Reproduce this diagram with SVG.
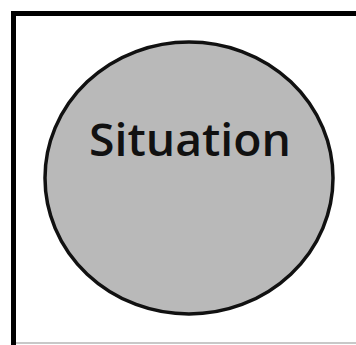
<svg xmlns="http://www.w3.org/2000/svg" width="356" height="345" viewBox="0 0 356 345">
<style>
.frame{fill:none;stroke:#000;stroke-width:5}
.node{fill:#b9b9b9;stroke:#111;stroke-width:3.5}
.label{font-family:"Open Sans","DejaVu Sans",sans-serif;font-size:45px;font-weight:600;fill:#111}
</style>
<rect x="0" y="0" width="356" height="345" fill="#fff"/>
<path class="frame" d="M13.5,345 V13.5 H356"/>
<line x1="16" y1="343" x2="356" y2="343" stroke="#c8c8c8" stroke-width="2"/>
<g id="situation">
<ellipse class="node" cx="189" cy="178" rx="144" ry="136"/>
<text class="label" x="89" y="156" textLength="202" lengthAdjust="spacingAndGlyphs">Situation</text>
</g>
<g id="connectors"></g>
</svg>
